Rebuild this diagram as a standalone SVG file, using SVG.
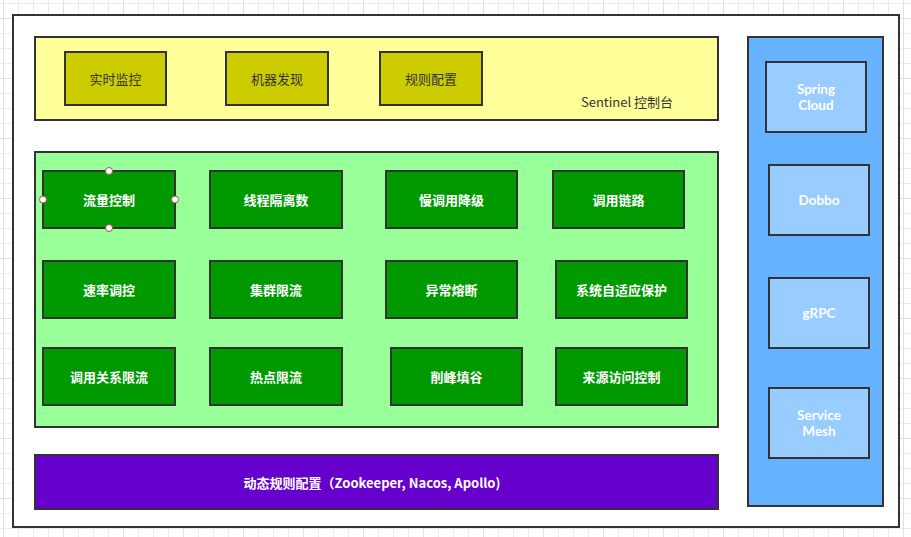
<svg xmlns="http://www.w3.org/2000/svg" width="911" height="537" viewBox="0 0 911 537">
<defs>
<pattern id="minor" patternUnits="userSpaceOnUse" x="3" y="3" width="15" height="15">
<path d="M0.5 0V15M0 0.5H15" fill="none" stroke="#ececec" stroke-width="1"/>
</pattern>
<pattern id="major" patternUnits="userSpaceOnUse" x="3" y="18" width="60" height="60">
<path d="M0.5 0V60M0 0.5H60" fill="none" stroke="#e0e0e0" stroke-width="1"/>
</pattern>
<style>
.frame{fill:#ffffff;stroke:#333333;stroke-width:2}
.panel{stroke:#333333;stroke-width:2}
.box{stroke:#333333;stroke-width:2}
.ybox{fill:#CCCC00}
.gbox{fill:#009900}
.bbox{fill:#99CCFF}
.t{font-family:"Microsoft YaHei","Noto Sans CJK SC","Noto Sans",sans-serif;font-size:13px;text-anchor:middle;dominant-baseline:central}
.lat{font-family:Lato,"Liberation Sans",sans-serif;font-size:13.5px}
.dark{fill:#333333}
.white{fill:#ffffff;font-weight:bold}
.handle{fill:#ffffff;stroke:#a05050;stroke-width:1}
</style>
</defs>
<rect width="911" height="537" fill="#ffffff"/>
<rect width="911" height="537" fill="url(#minor)"/>
<rect width="911" height="537" fill="url(#major)"/>
<rect class="frame" x="13" y="15" width="886" height="512"/>

<g id="console">
<rect class="panel" x="35" y="37" width="683" height="83" fill="#FFFF99"/>
<text class="t dark" x="627" y="101">Sentinel 控制台</text>
</g>
<g id="monitor"><rect class="box ybox" x="65" y="52" width="101" height="53"/><text class="t dark" x="115.5" y="78.5">实时监控</text></g>
<g id="discovery"><rect class="box ybox" x="226" y="52" width="102" height="53"/><text class="t dark" x="277" y="78.5">机器发现</text></g>
<g id="rules"><rect class="box ybox" x="380" y="52" width="102" height="53"/><text class="t dark" x="431" y="78.5">规则配置</text></g>

<g id="core"><rect class="panel" x="35" y="152" width="683" height="275" fill="#99FF99"/></g>
<g id="flow"><rect class="box gbox" x="43" y="171" width="132" height="57"/><text class="t white" x="109" y="199.5">流量控制</text>
<circle class="handle" cx="109" cy="171" r="3.5"/><circle class="handle" cx="109" cy="228" r="3.5"/><circle class="handle" cx="43" cy="199.5" r="3.5"/><circle class="handle" cx="175" cy="199.5" r="3.5"/></g>
<g id="thread"><rect class="box gbox" x="210" y="171" width="132" height="57"/><text class="t white" x="276" y="199.5">线程隔离数</text></g>
<g id="slow"><rect class="box gbox" x="386" y="171" width="131" height="57"/><text class="t white" x="451.5" y="199.5">慢调用降级</text></g>
<g id="chain"><rect class="box gbox" x="553" y="171" width="131" height="57"/><text class="t white" x="618.5" y="199.5">调用链路</text></g>

<g id="rate"><rect class="box gbox" x="43" y="261" width="132" height="57"/><text class="t white" x="109" y="289.5">速率调控</text></g>
<g id="cluster"><rect class="box gbox" x="210" y="261" width="132" height="57"/><text class="t white" x="276" y="289.5">集群限流</text></g>
<g id="breaker"><rect class="box gbox" x="386" y="261" width="131" height="57"/><text class="t white" x="451.5" y="289.5">异常熔断</text></g>
<g id="adaptive"><rect class="box gbox" x="556" y="261" width="131" height="57"/><text class="t white" x="621.5" y="289.5">系统自适应保护</text></g>

<g id="relation"><rect class="box gbox" x="43" y="348" width="132" height="57"/><text class="t white" x="109" y="376.5">调用关系限流</text></g>
<g id="hotspot"><rect class="box gbox" x="210" y="348" width="132" height="57"/><text class="t white" x="276" y="376.5">热点限流</text></g>
<g id="peak"><rect class="box gbox" x="391" y="348" width="131" height="57"/><text class="t white" x="456.5" y="376.5">削峰填谷</text></g>
<g id="origin"><rect class="box gbox" x="556" y="348" width="131" height="57"/><text class="t white" x="621.5" y="376.5">来源访问控制</text></g>

<g id="dynamic"><rect class="panel" x="35" y="455" width="683" height="54" fill="#6600CC"/><text class="t white" x="372" y="482">动态规则配置（Zookeeper, Nacos, Apollo)</text></g>

<g id="adapters"><rect class="panel" x="748" y="37" width="135" height="469" fill="#66B2FF"/></g>
<g id="spring"><rect class="box bbox" x="766" y="62" width="100" height="70"/><text class="t lat white" x="816" y="89">Spring</text><text class="t lat white" x="816" y="105">Cloud</text></g>
<g id="dobbo"><rect class="box bbox" x="769" y="165" width="100" height="70"/><text class="t lat white" x="819" y="200">Dobbo</text></g>
<g id="grpc"><rect class="box bbox" x="769" y="278" width="100" height="70"/><text class="t lat white" x="819" y="313">gRPC</text></g>
<g id="mesh"><rect class="box bbox" x="769" y="388" width="100" height="70"/><text class="t lat white" x="819" y="415">Service</text><text class="t lat white" x="819" y="431">Mesh</text></g>

<g id="connectors"></g>
</svg>
